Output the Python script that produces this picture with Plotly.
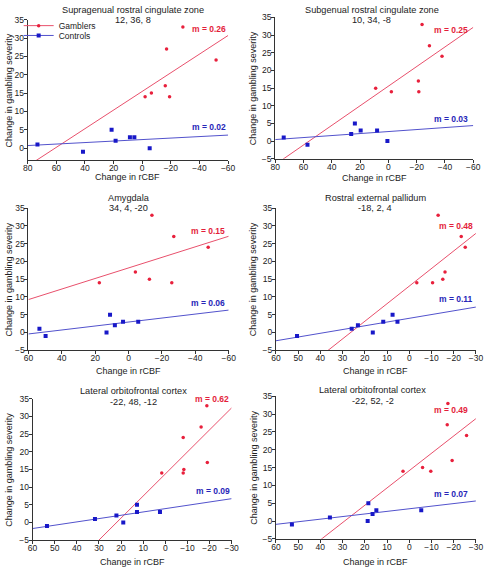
import numpy as np
import plotly.graph_objects as go

W, H = 491, 573

# ---------------- data ----------------
titles = ["Supragenual rostral cingulate zone", "Subgenual rostral cingulate zone",
          "Amygdala", "Rostral external pallidum",
          "Lateral orbitofrontal cortex", "Lateral orbitofrontal cortex"]
coords = ["12, 36, 8", "10, 34, -8", "34, 4, -20", "-18, 2, 4", "-22, 48, -12", "-22, 52, -2"]

gamblers_x = [
    [-28.4, -17.0, -51.6, -16.1, -2.0, -6.4, -19.1],
    [-23.8, -29.0, -37.9, -21.2, 9.0, -2.1, -21.5],
    [-14.0, -27.1, -47.7, -4.1, -12.5, 17.5, -25.9],
    [-13.0, -23.4, -25.2, -16.1, -15.1, -3.4, -10.5],
    [-18.8, -16.2, -8.1, -19.0, -8.4, -8.1, 1.6],
    [-17.4, -17.1, -25.8, -19.3, -6.0, -9.7, 2.8],
]
gamblers_y = [
    [33, 27, 24, 17, 14, 15, 14],
    [33, 27, 24, 17, 15, 14, 14],
    [33, 27, 24, 17, 15, 14, 14],
    [33, 27, 24, 17, 15, 14, 14],
    [33, 27, 24, 17, 15, 14, 14],
    [33, 27, 24, 17, 15, 14, 14],
]
controls_x = [
    [73.2, 41.4, 21.4, 18.6, 8.6, 5.5, -5.2],
    [74.0, 57.2, 23.7, 26.3, 19.6, 8.0, 0.7],
    [53.4, 49.7, 11.1, 13.2, 8.2, 3.3, -5.8],
    [50.5, 25.9, 23.1, 16.4, 11.7, 7.5, 5.3],
    [53.5, 31.8, 22.1, 19.0, 12.8, 12.8, 2.4],
    [52.8, 35.7, 18.4, 18.7, 16.5, 14.8, -5.4],
]
controls_y = [
    [1, -1, 5, 2, 3, 3, 0],
    [1, -1, 5, 2, 3, 3, 0],
    [1, -1, 5, 0, 2, 3, 3],
    [-1, 1, 2, 0, 3, 5, 3],
    [-1, 1, 2, 0, 5, 3, 3],
    [-1, 1, 5, 0, 2, 3, 3],
]
slope_gamblers = ["m = 0.26", "m = 0.25", "m = 0.15", "m = 0.48", "m = 0.62", "m = 0.49"]
slope_controls = ["m = 0.02", "m = 0.03", "m = 0.06", "m = 0.11", "m = 0.09", "m = 0.07"]

x_ranges = [[80, -60], [80, -60], [60, -60], [60, -30], [60, -30], [60, -30]]
x_dticks = [20, 20, 20, 10, 10, 10]
y_ranges = [[-3.3, 35], [-5, 35], [-5, 35], [-5, 35], [-5, 35], [-5, 35]]

# ---------------- layout geometry (pixels) ----------------
plot_px = [  # x0, x1, y_top, y_bottom
    (23.3, 228.7, 15.0, 158.0),
    (277.0, 480.0, 12.7, 156.5),
    (24.0, 229.3, 206.7, 351.3),
    (277.7, 482.7, 206.7, 351.3),
    (28.3, 232.3, 400.7, 544.7),
    (277.7, 482.7, 398.3, 543.3),
]
title_px = [(131.3, 5.0, 15.7), (375.8, 5.0, 15.7), (127.0, 196.7, 206.7),
            (379.7, 196.7, 206.7), (132.2, 392.7, 404.0), (377.2, 392.3, 403.3)]
xtitle_py = [175.0, 175.7, 372.5, 372.7, 567.0, 567.0]
ytitle_px = [4.5, 254.3, 4.5, 254.3, 4.5, 254.3]
g_label_xy = [(-60, 32.5), (-58, 31.5), (-59, 28.5), (-29.6, 30.0), (-29.7, 34.8), (-27.4, 31.1)]
c_label_xy = [(-60, 5.7), (-58, 6.2), (-59, 8.2), (-29.6, 9.4), (-30, 9.0), (-27.4, 7.5)]

RED_M = "#e8203c"
RED_L = "#e8506c"
BLUE_M = "#1818c8"
BLUE_L = "#5252cc"
RED_T = "#e41e3a"
BLUE_T = "#2626b8"
FONT = "Liberation Sans, Arial, sans-serif"


def px2x(p):
    return p / W


def px2y(p):
    return 1 - p / H


fig = go.Figure()
layout = dict(width=W, height=H, autosize=False, margin=dict(l=0, r=0, t=0, b=0),
              paper_bgcolor="white", plot_bgcolor="white",
              font=dict(family=FONT, size=9, color="#222222"), showlegend=True)
annotations = []

for i in range(6):
    n = i + 1
    xa = "x" if n == 1 else f"x{n}"
    ya = "y" if n == 1 else f"y{n}"
    x0, x1, yt, yb = plot_px[i]
    axis_common = dict(showline=True, linecolor="#333333", linewidth=1, ticks="outside",
                       ticklen=3, tickcolor="#333333", showgrid=False, zeroline=False,
                       tickfont=dict(size=8.5, family=FONT, color="#222222"))
    layout["xaxis" if n == 1 else f"xaxis{n}"] = dict(
        domain=[px2x(x0), px2x(x1)], anchor=ya, range=x_ranges[i],
        tick0=0, dtick=x_dticks[i], ticklabelstandoff=-3, **axis_common)
    layout["yaxis" if n == 1 else f"yaxis{n}"] = dict(
        domain=[px2y(yb), px2y(yt)], anchor=xa, range=y_ranges[i],
        tick0=0, dtick=5, ticklabelstandoff=-2, **axis_common)

    gx = np.array(gamblers_x[i]); gy = np.array(gamblers_y[i])
    cx = np.array(controls_x[i]); cy = np.array(controls_y[i])
    xr = np.array(x_ranges[i], dtype=float)
    for (dx, dy, lc) in ((gx, gy, RED_L), (cx, cy, BLUE_L)):
        k, b = np.polyfit(dx, dy, 1)
        fig.add_trace(go.Scatter(x=xr, y=k * xr + b, mode="lines", xaxis=xa, yaxis=ya,
                                 line=dict(color=lc, width=1), showlegend=False,
                                 hoverinfo="skip"))
    fig.add_trace(go.Scatter(x=gx, y=gy, mode="markers", xaxis=xa, yaxis=ya,
                             marker=dict(color=RED_M, size=3.5, symbol="circle"),
                             showlegend=False, name="Gamblers"))
    fig.add_trace(go.Scatter(x=cx, y=cy, mode="markers", xaxis=xa, yaxis=ya,
                             marker=dict(color=BLUE_M, size=4, symbol="square"),
                             showlegend=False, name="Controls"))

    # titles
    tx, ty1, ty2 = title_px[i]
    annotations.append(dict(text=titles[i], x=px2x(tx), y=px2y(ty1), xref="paper", yref="paper",
                            xanchor="center", yanchor="middle", showarrow=False,
                            font=dict(size=9.2, color="#222222")))
    annotations.append(dict(text=coords[i], x=px2x(tx), y=px2y(ty2), xref="paper", yref="paper",
                            xanchor="center", yanchor="middle", showarrow=False,
                            font=dict(size=9.2, color="#222222")))
    # axis titles
    annotations.append(dict(text="Change in rCBF", x=px2x((x0 + x1) / 2), y=px2y(xtitle_py[i]),
                            xref="paper", yref="paper", xanchor="center", yanchor="middle",
                            showarrow=False, font=dict(size=9, color="#222222")))
    annotations.append(dict(text="Change in gambling severity", x=px2x(ytitle_px[i]),
                            y=px2y((yt + yb) / 2), xref="paper", yref="paper",
                            xanchor="center", yanchor="middle", textangle=-90,
                            showarrow=False, font=dict(size=9, color="#222222")))
    # slope labels
    annotations.append(dict(text="<b>" + slope_gamblers[i] + "</b>", x=g_label_xy[i][0],
                            y=g_label_xy[i][1], xref=xa, yref=ya, xanchor="right",
                            yanchor="middle", showarrow=False,
                            font=dict(size=8.5, color=RED_T)))
    annotations.append(dict(text="<b>" + slope_controls[i] + "</b>", x=c_label_xy[i][0],
                            y=c_label_xy[i][1], xref=xa, yref=ya, xanchor="right",
                            yanchor="middle", showarrow=False,
                            font=dict(size=8.5, color=BLUE_T)))

# legend entries (symbol = line + marker)
fig.add_trace(go.Scatter(x=[None], y=[None], mode="lines+markers", name="Gamblers",
                         line=dict(color=RED_L, width=1),
                         marker=dict(color=RED_M, size=3.5), legend="legend"))
fig.add_trace(go.Scatter(x=[None], y=[None], mode="lines+markers", name="Controls",
                         line=dict(color=BLUE_L, width=1),
                         marker=dict(color=BLUE_M, size=4, symbol="square"), legend="legend2"))

leg_common = dict(bgcolor="rgba(0,0,0,0)", borderwidth=0, itemwidth=30,
                  font=dict(size=8.5, family=FONT, color="#222222"),
                  xanchor="left", yanchor="middle", tracegroupgap=0)
layout["legend"] = dict(x=px2x(14), y=px2y(21), **leg_common)
layout["legend2"] = dict(x=px2x(14), y=px2y(31), **leg_common)
layout["annotations"] = annotations

fig.update_layout(**layout)
fig.write_html("out.html", config={"displayModeBar": False},
               post_script="document.body.style.margin='0';document.body.style.overflow='hidden';")
